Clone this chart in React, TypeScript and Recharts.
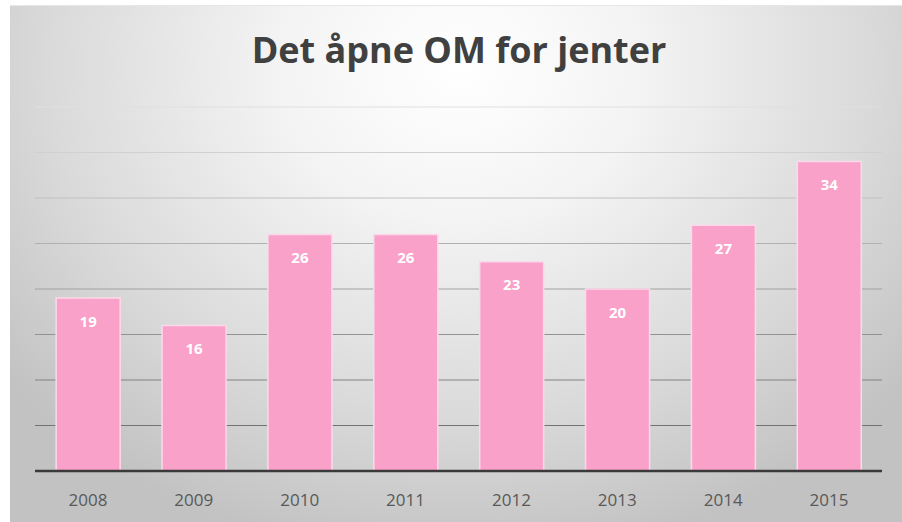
import React from "react";
import { BarChart, Bar, XAxis, YAxis, CartesianGrid, LabelList } from "recharts";

const years = ["2008", "2009", "2010", "2011", "2012", "2013", "2014", "2015"];
const values = [19, 16, 26, 26, 23, 20, 27, 34];
const yTicks = [0, 5, 10, 15, 20, 25, 30, 35, 40];
const title = "Det åpne OM for jenter";

const data = years.map((y, i) => ({ year: y, value: values[i] }));

export default function App() {
  return (
    <div style={{ position: "fixed", left: 0, top: 0, width: 902, height: 522, background: "#ffffff", overflow: "hidden" }}>
      <div
        style={{
          position: "absolute",
          left: 10,
          top: 5,
          width: 900,
          height: 520,
          background:
            "radial-gradient(ellipse 65% 95% at 50% 12%, #ffffff 0%, #f4f4f4 30%, #dadada 70%, #c2c2c2 100%)",
          borderTop: "1px solid #e6e6e6",
        }}
      />
      <div
        style={{
          position: "absolute",
          left: 0,
          top: 25,
          width: 918,
          textAlign: "center",
          fontFamily: "'Open Sans', sans-serif",
          fontWeight: 700,
          fontSize: 36,
          lineHeight: "50px",
          color: "#404040",
        }}
      >
        {title}
      </div>
      <div style={{ position: "absolute", left: 0, top: 0 }}>
        <BarChart
          width={902}
          height={522}
          data={data}
          margin={{ top: 107, right: 20, bottom: 21, left: 35 }}
          barCategoryGap="20%"
        >
          <defs>
            <linearGradient id="gridGrad" gradientUnits="userSpaceOnUse" x1="0" y1="100" x2="0" y2="440">
              <stop offset="0%" stopColor="#e2e2e2" />
              <stop offset="100%" stopColor="#6e6e6e" />
            </linearGradient>
          </defs>
          <CartesianGrid vertical={false} stroke="url(#gridGrad)" strokeWidth={1.2} />
          <YAxis hide domain={[0, 40]} ticks={yTicks} type="number" />
          <XAxis
            dataKey="year"
            height={30}
            tickSize={0}
            tickMargin={23}
            axisLine={{ stroke: "#3a3a3a", strokeWidth: 2.5 }}
            tickLine={false}
            tick={{ fill: "#595959", fontSize: 17, fontFamily: "'Open Sans', sans-serif" }}
          />
          <Bar dataKey="value" fill="#f9a1c9" stroke="#fcd9ea" strokeWidth={1.5} isAnimationActive={false}>
            <LabelList
              dataKey="value"
              position="insideTop"
              offset={18}
              fill="#ffffff"
              style={{ fontFamily: "'Open Sans', sans-serif", fontWeight: 700, fontSize: 15 }}
            />
          </Bar>
        </BarChart>
      </div>
    </div>
  );
}
